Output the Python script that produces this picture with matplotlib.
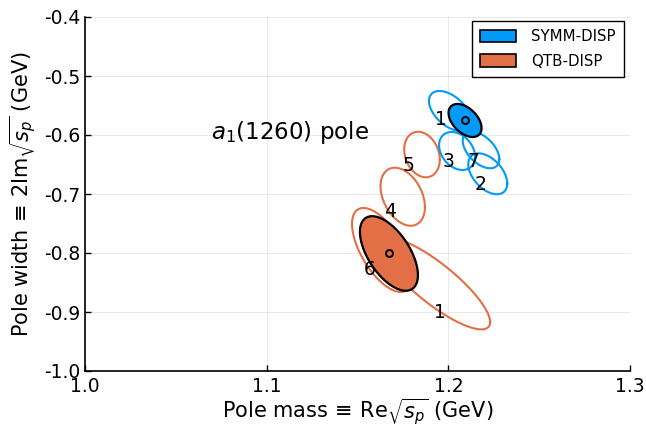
import numpy as np
import matplotlib
matplotlib.use("Agg")
import matplotlib.pyplot as plt
from matplotlib.patches import Patch

plt.rcParams['font.family'] = ['DejaVu Sans']
plt.rcParams['axes.unicode_minus'] = False
plt.rcParams['mathtext.fontset'] = 'dejavusans'

BLUE = '#009AFA'
ORANGE = '#E36F47'

# ---- SYMM-DISP fits (open ellipses) ----
symm_labels = ['1', '3', '7', '2']
symm_mass = [1.2009, 1.2048, 1.2180, 1.2217]
symm_width = [-0.5593, -0.6271, -0.6254, -0.6658]
symm_sig_mass = [0.01156, 0.00991, 0.01007, 0.01073]
symm_sig_width = [0.0339, 0.0322, 0.0310, 0.0347]
symm_rho = [-0.50, -0.30, -0.50, -0.47]
symm_label_x = [1.1960, 1.1999, 1.2137, 1.2175]
symm_label_y = [-0.5729, -0.6441, -0.6441, -0.6831]

# SYMM-DISP final (filled)
symm_final = dict(mass=1.2092, width=-0.5754, sig_mass=0.00908, sig_width=0.02797, rho=-0.46)

# ---- QTB-DISP fits (open ellipses) ----
qtb_labels = ['5', '4', '6', '1']
qtb_mass = [1.1855, 1.1749, 1.1635, 1.1927]
qtb_width = [-0.6331, -0.7046, -0.7949, -0.8517]
qtb_sig_mass = [0.0098, 0.01222, 0.01651, 0.0303]
qtb_sig_width = [0.0386, 0.0492, 0.0712, 0.0778]
qtb_rho = [-0.22, -0.36, -0.62, -0.84]
qtb_label_x = [1.1783, 1.1679, 1.1569, 1.1954]
qtb_label_y = [-0.6525, -0.7305, -0.8288, -0.9000]

# QTB-DISP final (filled)
qtb_final = dict(mass=1.1673, width=-0.8008, sig_mass=0.01596, sig_width=0.0632, rho=-0.58)

xticks = [1.0, 1.1, 1.2, 1.3]
yticks = [-1.0, -0.9, -0.8, -0.7, -0.6, -0.5, -0.4]


def ellipse(cx, cy, sx, sy, rho, n=200):
    t = np.linspace(0, 2 * np.pi, n)
    x = cx + sx * np.cos(t)
    y = cy + sy * (rho * np.cos(t) + np.sqrt(1 - rho ** 2) * np.sin(t))
    return x, y


fig = plt.figure(figsize=(6.46, 4.29), dpi=100)
ax = fig.add_axes([85 / 646, 1 - 371 / 429, (630 - 85) / 646, (371 - 17) / 429])

for i in range(len(qtb_labels)):
    x, y = ellipse(qtb_mass[i], qtb_width[i], qtb_sig_mass[i], qtb_sig_width[i], qtb_rho[i])
    ax.plot(x, y, color=ORANGE, lw=1.5, zorder=3)
for i in range(len(symm_labels)):
    x, y = ellipse(symm_mass[i], symm_width[i], symm_sig_mass[i], symm_sig_width[i], symm_rho[i])
    ax.plot(x, y, color=BLUE, lw=1.5, zorder=3)

for fin, col in [(symm_final, BLUE), (qtb_final, ORANGE)]:
    x, y = ellipse(fin['mass'], fin['width'], fin['sig_mass'], fin['sig_width'], fin['rho'])
    ax.fill(x, y, facecolor=col, edgecolor='black', lw=1.6, zorder=4)
    ax.plot([fin['mass']], [fin['width']], marker='o', ms=5, mfc='none', mec='black',
            mew=1.4, zorder=5)

for lab, lx, ly in zip(symm_labels, symm_label_x, symm_label_y):
    ax.text(lx, ly, lab, fontsize=13.5, ha='center', va='center', zorder=6)
for lab, lx, ly in zip(qtb_labels, qtb_label_x, qtb_label_y):
    ax.text(lx, ly, lab, fontsize=13.5, ha='center', va='center', zorder=6)

ax.text(1.1128, -0.5966, r'$a_1$(1260) pole', fontsize=16.5, ha='center', va='center')

ax.set_xlim(1.0, 1.3)
ax.set_ylim(-1.0, -0.4)
ax.set_xticks(xticks)
ax.set_xticklabels([f'{v:.1f}' for v in xticks])
ax.set_yticks(yticks)
ax.set_yticklabels([f'{v:.1f}' for v in yticks])
ax.tick_params(direction='in', length=4, width=1, labelsize=13.5, color='black', pad=3)
ax.tick_params(axis='x', pad=4.5)
ax.grid(True, color='black', alpha=0.1, lw=0.6)
ax.set_axisbelow(True)
for s in ['top', 'right']:
    ax.spines[s].set_visible(False)
for s in ['left', 'bottom']:
    ax.spines[s].set_linewidth(1.2)

ax.set_xlabel(r'Pole mass$\,\equiv\,$Re$\sqrt{s_p}$ (GeV)', fontsize=15, labelpad=0.5)
ax.set_ylabel(r'Pole width$\,\equiv\,$2Im$\sqrt{s_p}$ (GeV)', fontsize=15, labelpad=4)

handles = [Patch(facecolor=BLUE, edgecolor='black', lw=1.2, label='SYMM-DISP'),
           Patch(facecolor=ORANGE, edgecolor='black', lw=1.2, label='QTB-DISP')]
leg = ax.legend(handles=handles, loc='upper right', fontsize=10.8, fancybox=False,
                edgecolor='black', framealpha=1, bbox_to_anchor=(0.989, 0.989),
                handlelength=2.4, handleheight=0.9, borderpad=0.55, labelspacing=0.65,
                handletextpad=1.0, borderaxespad=0)
leg.get_frame().set_linewidth(1.0)

fig.savefig('out.png', dpi=100)
